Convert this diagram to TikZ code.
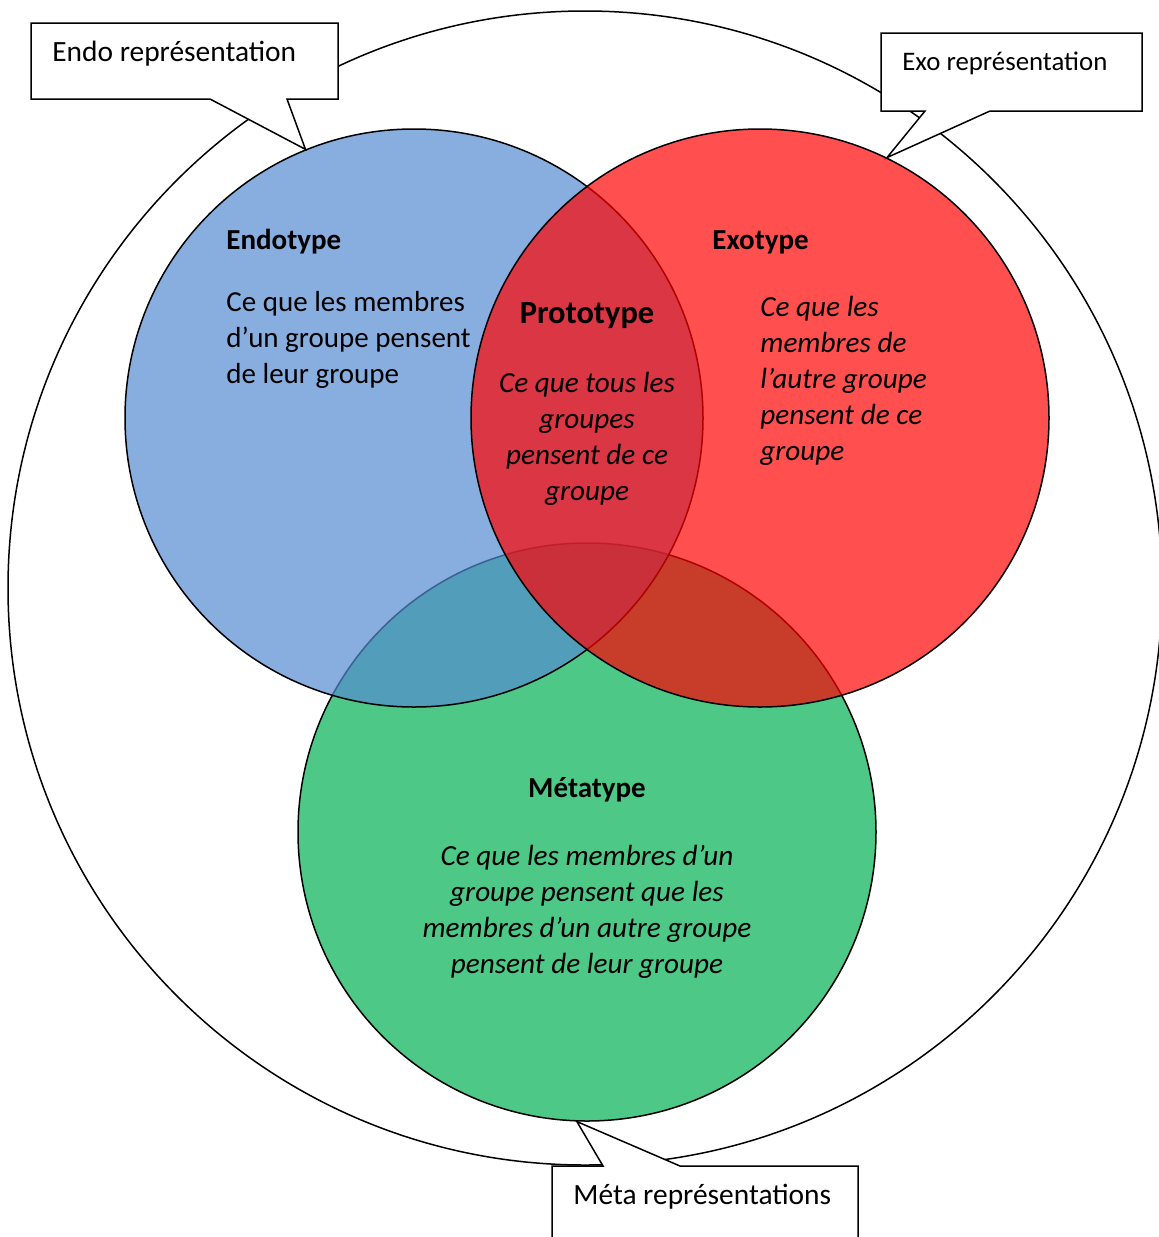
\documentclass[tikz,border=0pt]{standalone}
\usepackage{fontspec}
\setmainfont{Carlito}
\definecolor{bleu}{RGB}{84,139,209}
\definecolor{rouge}{RGB}{255,0,0}
\definecolor{vert}{RGB}{77,200,135}
\begin{document}
\begin{tikzpicture}[x=0.5pt,y=-0.5pt,
    cercle/.style={circle,draw,line width=0.75pt,minimum size=289pt,inner sep=0pt},
    bulle/.style={draw,fill=white,line width=0.75pt,line join=miter},
    titre/.style={font=\fontsize{14.5}{18}\selectfont\bfseries,inner sep=0pt},
    texte/.style={font=\fontsize{14.5}{18}\selectfont,inner sep=0pt,align=left},
    italique/.style={font=\fontsize{14.6}{18}\selectfont\itshape,inner sep=0pt}]
        \useasboundingbox (0,0) rectangle (1159,1237);

        \node[circle,draw,line width=0.75pt,minimum size=577pt,inner sep=0pt] (tout) at (585,588) {};

        \node[cercle,fill=vert] (meta) at (587,832) {};
        \node[cercle,fill=bleu,fill opacity=0.7] (endo) at (414,418) {};
        \node[cercle,fill=rouge,fill opacity=0.69] (exo) at (760,418) {};

        \draw[bulle] (31,23) -- (338,23) -- (338,99) -- (287,99) -- (endo.112) -- (210,99) -- (31,99) -- cycle;
        \draw[bulle] (881,33) -- (1142,33) -- (1142,111) -- (990,111) -- (exo.64) -- (925,111) -- (881,111) -- cycle;
        \draw[bulle] (552,1166) -- (603,1166) -- (meta.268.6) -- (680,1166) -- (858,1166) -- (858,1260) -- (552,1260) -- cycle;

        \node[anchor=west,font=\fontsize{14.7}{17}\selectfont,inner sep=0pt] (lendo) at (52,54) {Endo représentation};
        \node[anchor=west,font=\fontsize{13.4}{15}\selectfont,inner sep=0pt] (lexo) at (902,63) {Exo représentation};
        \node[anchor=west,font=\fontsize{14.7}{17}\selectfont,inner sep=0pt] (lmeta) at (573,1197) {Méta représentations};

        \node[titre,anchor=west] (tendo) at (226,242) {Endotype};
        \node[texte,anchor=west] (dendo) at (226,340) {Ce que les membres\\d’un groupe pensent\\de leur groupe};

        \node[titre,font=\fontsize{16.2}{18}\selectfont\bfseries] (tproto) at (587,316) {Prototype};
        \node[italique,align=center] (dproto) at (587,439) {Ce que tous les\\groupes\\pensent de ce\\groupe};

        \node[titre,anchor=west] (texo) at (712,242) {Exotype};
        \node[italique,anchor=west,align=left] (dexo) at (760,381) {Ce que les\\membres de\\l’autre groupe\\pensent de ce\\groupe};

        \node[titre] (tmeta) at (587,790) {Métatype};
        \node[italique,align=center] (dmeta) at (587,912) {Ce que les membres d’un\\groupe pensent que les\\membres d’un autre groupe\\pensent de leur groupe};

    \end{tikzpicture}
\end{document}
